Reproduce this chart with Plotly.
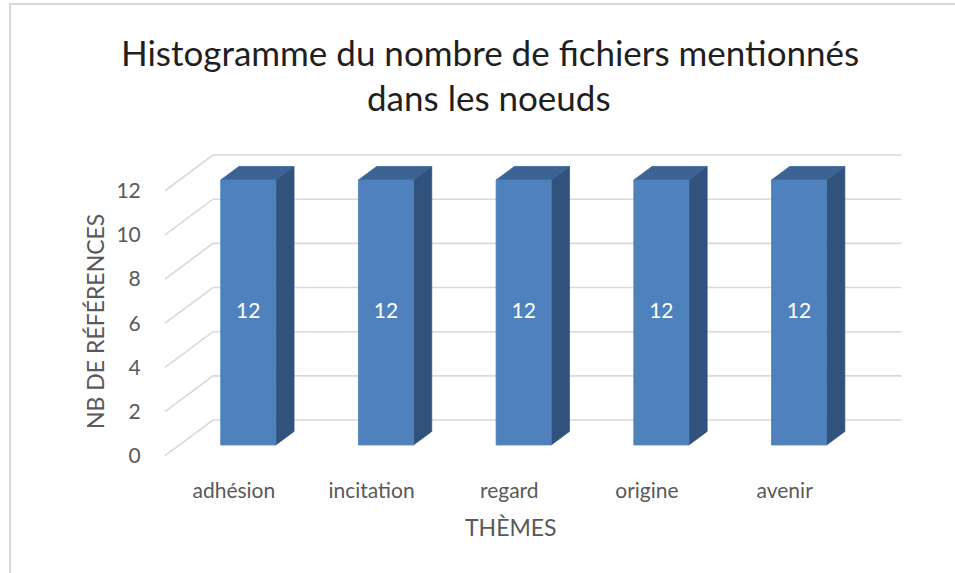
import plotly.graph_objects as go

# --- data ---
themes = ["adhésion", "incitation", "regard", "origine", "avenir"]
nb_references = [12, 12, 12, 12, 12]
y_ticks = [0, 2, 4, 6, 8, 10, 12]
title_lines = ["Histogramme du nombre de fichiers mentionnés", "dans les noeuds"]

# --- pseudo-3D projection (category units / value units) ---
DX = 0.3486        # horizontal shift of the full depth, in category units
DY = 1.617         # vertical shift of the full depth, in value units
D0, D1 = 0.30, 0.68  # bar depth span (0 = front, 1 = back wall)
BAR_W = 0.40         # bar width as fraction of a category slot
N = len(themes)

FRONT = "#4F81BD"
SIDE = "#31527C"
TOP = "#3B6494"
GRID = "#D9D9D9"
TEXT = "#595959"
FONT = "Lato"

# plot area in pixels: left 150, right 920, top 130, bottom 470
PL, PR, PT, PB = 150, 920, 130, 470


def px(xp):
    return (xp - PL) / (PR - PL)


def py(yp):
    return (PB - yp) / (PB - PT)


fig = go.Figure()

# back wall gridlines and side-wall diagonals
for v in y_ticks:
    fig.add_trace(go.Scatter(
        x=[0, DX, N + DX], y=[v, v + DY, v + DY],
        mode="lines", line=dict(color=GRID, width=1.6),
        hoverinfo="skip", showlegend=False))


def poly(xs, ys, color):
    fig.add_trace(go.Scatter(
        x=xs + [xs[0]], y=ys + [ys[0]], mode="lines", fill="toself",
        fillcolor=color, line=dict(color=color, width=0.8),
        hoverinfo="skip", showlegend=False))


for i, h in enumerate(nb_references):
    cl = i + 0.5 - BAR_W / 2
    cr = i + 0.5 + BAR_W / 2
    fx0, fy0 = D0 * DX, D0 * DY
    bx0, by0 = D1 * DX, D1 * DY
    # right side face
    poly([cr + fx0, cr + bx0, cr + bx0, cr + fx0],
         [fy0, by0, h + by0, h + fy0], SIDE)
    # top face
    poly([cl + fx0, cr + fx0, cr + bx0, cl + bx0],
         [h + fy0, h + fy0, h + by0, h + by0], TOP)
    # front face
    poly([cl + fx0, cr + fx0, cr + fx0, cl + fx0],
         [fy0, fy0, h + fy0, h + fy0], FRONT)

# value labels in the middle of the front faces
fig.add_trace(go.Scatter(
    x=[i + 0.5 + D0 * DX for i in range(N)],
    y=[h / 2 + D0 * DY for h in nb_references],
    text=[str(h) for h in nb_references], mode="text",
    textposition="middle center",
    textfont=dict(family=FONT, size=21, color="white"),
    hoverinfo="skip", showlegend=False))

PX_PER_CAT = 137.7
PX_PER_VAL = 22.08
x_range = [(PL - 165) / PX_PER_CAT, (PR - 165) / PX_PER_CAT]
y_range = [(455.7 - PB) / PX_PER_VAL, (455.7 - PT) / PX_PER_VAL]

annotations = [
    dict(text=title_lines[0], x=px(490), y=py(52)),
    dict(text=title_lines[1], x=px(489), y=py(97)),
]
for a in annotations:
    a.update(xref="paper", yref="paper", xanchor="center", yanchor="middle",
             showarrow=False, font=dict(family=FONT, size=35, color="#1f1f1f"))
annotations += [
    dict(text="THÈMES", xref="paper", yref="paper",
         x=px(511), y=py(527),
         xanchor="center", yanchor="middle", showarrow=False,
         font=dict(family=FONT, size=23, color=TEXT)),
    dict(text="NB DE RÉFÉRENCES", xref="paper", yref="paper",
         x=px(95), y=py(322), textangle=-90,
         xanchor="center", yanchor="middle", showarrow=False,
         font=dict(family=FONT, size=23, color=TEXT)),
]

fig.update_layout(
    width=955, height=573,
    margin=dict(l=PL, r=955 - PR, t=PT, b=573 - PB),
    paper_bgcolor="white", plot_bgcolor="white",
    font=dict(family=FONT, color=TEXT),
    xaxis=dict(
        range=x_range, showgrid=False, zeroline=False, showline=False,
        tickvals=[i + 0.5 for i in range(N)], ticktext=themes,
        ticks="outside", ticklen=2, tickcolor="rgba(0,0,0,0)",
        tickfont=dict(family=FONT, size=21, color=TEXT), fixedrange=True),
    yaxis=dict(
        range=y_range, showgrid=False, zeroline=False, showline=False,
        tickvals=y_ticks, ticks="outside", ticklen=4,
        tickcolor="rgba(0,0,0,0)",
        tickfont=dict(family=FONT, size=21, color=TEXT), fixedrange=True),
    annotations=annotations,
    shapes=[dict(type="rect", xref="paper", yref="paper",
                 x0=px(10), x1=px(970), y0=py(590), y1=py(4),
                 line=dict(color=GRID, width=2), fillcolor="rgba(0,0,0,0)",
                 layer="below")],
)

fig.write_html("out.html")
